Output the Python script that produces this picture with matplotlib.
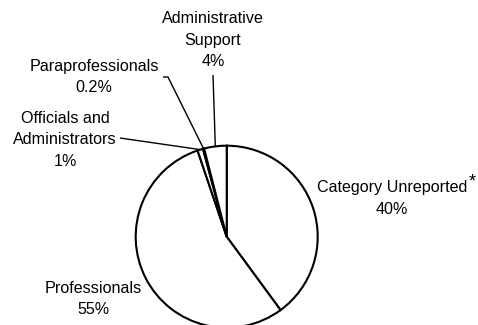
import matplotlib.pyplot as plt
import numpy as np

plt.rcParams["font.family"] = ["Liberation Sans", "DejaVu Sans"]

CATEGORIES = ["Category Unreported", "Professionals", "Officials and\nAdministrators",
              "Paraprofessionals", "Administrative\nSupport"]
PERCENTS = [40, 55, 1, 0.2, 4]
PCT_LABELS = ["40%", "55%", "1%", "0.2%", "4%"]

W, H = 478, 325
CENTER = (226.7, 88.3)
RADIUS = 91

# label block centres (pixel coords, y up) and leader line start points
LABEL_POS = [(392, 126.5), (93, 26), (65, 185), (94, 248), (213, 285)]
LEADER_START = [None, None, [(120, 187)], [(163, 248), (168, 248)], [(213, 250)]]

fig = plt.figure(figsize=(W / 100, H / 100), dpi=100)
ax = fig.add_axes([0, 0, 1, 1])

wedges, _ = ax.pie(PERCENTS, startangle=90, counterclock=False, center=CENTER, radius=RADIUS,
                   wedgeprops=dict(facecolor="white", edgecolor="black", linewidth=1.5))

for i, (cat, pct) in enumerate(zip(CATEGORIES, PCT_LABELS)):
    x, y = LABEL_POS[i]
    ax.text(x, y, cat + "\n" + pct, ha="center", va="center", fontsize=11.6,
            linespacing=1.55, multialignment="center")
    if LEADER_START[i]:
        w = wedges[i]
        mid = np.deg2rad((w.theta1 + w.theta2) / 2)
        ex = CENTER[0] + RADIUS * np.cos(mid)
        ey = CENTER[1] + RADIUS * np.sin(mid)
        pts = LEADER_START[i] + [(ex, ey)]
        ax.plot([p[0] for p in pts], [p[1] for p in pts], color="black", linewidth=1.0,
                solid_capstyle="butt")

# footnote marker on the unreported label
ax.text(472, 143, "*", ha="center", va="center", fontsize=13)

ax.set_xlim(0, W)
ax.set_ylim(0, H)
ax.set_aspect("equal")
ax.axis("off")
fig.savefig("out.png", dpi=100, facecolor="white")
